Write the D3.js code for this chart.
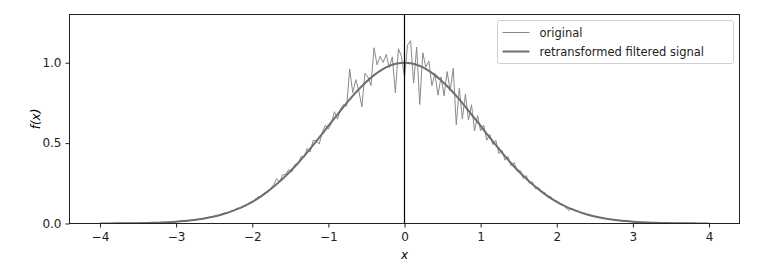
<!DOCTYPE html>
<html>
<head>
<meta charset="utf-8">
<script src="https://cdn.jsdelivr.net/npm/d3@7"></script>
<style>
  body { margin: 0; background: #fff; }
  text { font-family: "DejaVu Sans", sans-serif; }
</style>
</head>
<body>
<div class="svg-container"></div>
<script>
// sampled signal: x from -4 to 4 in steps of 0.04
var xStart = -4, xStep = 0.04;
var original = [
  .0003, .0004, .0005, .0005, .0006, .0007, .0009, .0010, .0011, .0013,
  .0015, .0018, .0020, .0023, .0027, .0031, .0035, .0040, .0046, .0053,
  .0060, .0068, .0077, .0087, .0098, .0111, .0125, .0141, .0158, .0177,
  .0198, .0222, .0247, .0276, .0307, .0340,
  .040, .039, .050, .049, .059, .067, .064, .076, .078, .095,
  .095, .110, .110, .128, .129, .151, .166, .167, .190, .193,
  .217, .240, .279, .259, .303, .306, .335, .320, .367, .367,
  .417, .409, .466, .444, .517, .515, .494, .568, .612, .587,
  .626, .695, .649, .713, .741, .729, .962, .814, .895, .825,
  .725, .934, .911, .858, 1.093, .987, 1.040, 1.002, 1.052, .970,
  1.037, .813, 1.087, 1.039, .910, 1.109, 1.137, .873, 1.097, .740,
  1.062, .972, 1.010, .857, .933, .798, .911, .794, .945, .825,
  .965, .614, .842, .649, .806, .643, .739, .575, .671, .577,
  .612, .518, .554, .490, .517, .434, .456, .394, .417, .360,
  .380, .325, .330, .281, .298, .251, .259, .216, .225, .193,
  .194, .163, .168, .141, .141, .120, .119, .098, .082, .092,
  .078, .078, .066, .065, .053, .053, .044, .044, .037,
  .0340, .0307, .0276, .0247, .0222, .0198, .0177, .0158, .0141, .0125,
  .0111, .0098, .0087, .0077, .0068, .0060, .0053, .0046, .0040, .0035,
  .0031, .0027, .0023, .0020, .0018, .0015, .0013, .0011, .0010, .0009,
  .0007, .0006, .0005, .0005, .0004, .0003
];

// filtered curve: x from -4 to 4 in steps of 0.1
var fStart = -4, fStep = 0.1;
var filtered = [
  .000, .000, .001, .001, .002, .002, .003, .004, .006, .008,
  .011, .015, .020, .026, .034, .044, .056, .071, .089, .110,
  .135, .164, .198, .236, .278, .325, .375, .430, .487, .546,
  .607, .667, .726, .783, .835, .882, .923, .956, .980, .995,
  1.000,
  .995, .980, .956, .923, .882, .835, .783, .726, .667, .607,
  .546, .487, .430, .375, .325, .278, .236, .198, .164, .135,
  .110, .089, .071, .056, .044, .034, .026, .020, .015, .011,
  .008, .006, .004, .003, .002, .002, .001, .001, .000, .000
];

var xTicks = [-4, -3, -2, -1, 0, 1, 2, 3, 4];
var yTicks = [0, 0.5, 1.0];

function draw() {
  "use strict";
  var width = 765, height = 266;
  var mLeft = 69.5, mRight = 739.5, mTop = 14.5, mBottom = 223.5;

  var svg = d3.select('.svg-container').append('svg')
      .attr('width', width).attr('height', height);

  var x = d3.scaleLinear().domain([-4.4, 4.4]).range([mLeft, mRight]);
  var y = d3.scaleLinear().domain([0, 1.3]).range([mBottom, mTop]);

  svg.append('clipPath').attr('id', 'clip')
    .append('rect').attr('x', mLeft).attr('y', mTop)
    .attr('width', mRight - mLeft).attr('height', mBottom - mTop);

  var plot = svg.append('g').attr('clip-path', 'url(#clip)');

  var lineOrig = d3.line()
      .x(function(d, i) { return x(xStart + i * xStep); })
      .y(function(d) { return y(d); });

  var lineFilt = d3.line()
      .curve(d3.curveMonotoneX)
      .x(function(d, i) { return x(fStart + i * fStep); })
      .y(function(d) { return y(d); });

  plot.append('path').datum(original)
      .attr('d', lineOrig)
      .attr('fill', 'none').attr('stroke', '#8a8a8a').attr('stroke-width', 1);

  plot.append('path').datum(filtered)
      .attr('d', lineFilt)
      .attr('fill', 'none').attr('stroke', '#6e6e6e').attr('stroke-width', 2);

  // vertical line at x = 0
  plot.append('line')
      .attr('x1', x(0)).attr('x2', x(0))
      .attr('y1', mTop).attr('y2', mBottom)
      .attr('stroke', '#000').attr('stroke-width', 1.2);

  // axes
  var xAxis = d3.axisBottom(x).tickValues(xTicks).tickSize(4).tickPadding(5)
      .tickFormat(function(d) { return d < 0 ? '\u2212' + Math.abs(d) : d; });
  var yAxis = d3.axisLeft(y).tickValues(yTicks).tickSize(4).tickPadding(4)
      .tickFormat(d3.format('.1f'));

  var gx = svg.append('g').attr('transform', 'translate(0,' + mBottom + ')').call(xAxis);
  var gy = svg.append('g').attr('transform', 'translate(' + mLeft + ',0)').call(yAxis);
  [gx, gy].forEach(function(g) {
    g.select('.domain').remove();
    g.selectAll('text').attr('font-size', 12).attr('fill', '#222')
      .attr('font-family', '"DejaVu Sans", sans-serif');
    g.selectAll('line').attr('stroke', '#222');
  });

  // frame
  svg.append('rect')
      .attr('x', mLeft).attr('y', mTop)
      .attr('width', mRight - mLeft).attr('height', mBottom - mTop)
      .attr('fill', 'none').attr('stroke', '#222').attr('stroke-width', 1);

  // axis labels
  svg.append('text').attr('x', x(0)).attr('y', 259)
      .attr('text-anchor', 'middle').attr('font-size', 12)
      .attr('font-style', 'italic').text('x');
  svg.append('text')
      .attr('transform', 'translate(40,' + ((mTop + mBottom) / 2) + ') rotate(-90)')
      .attr('text-anchor', 'middle').attr('font-size', 12)
      .attr('font-style', 'italic').text('f(x)');

  // legend
  var lg = svg.append('g').attr('transform', 'translate(497.5,20.5)');
  lg.append('rect').attr('width', 236).attr('height', 43).attr('rx', 2)
      .attr('fill', '#fff').attr('fill-opacity', 0.8)
      .attr('stroke', '#d0d0d0').attr('stroke-width', 1);
  var items = [
    {label: 'original', color: '#8a8a8a', w: 1},
    {label: 'retransformed filtered signal', color: '#6e6e6e', w: 2}
  ];
  items.forEach(function(it, i) {
    var yy = 12 + i * 19;
    lg.append('line').attr('x1', 5).attr('x2', 32).attr('y1', yy).attr('y2', yy)
      .attr('stroke', it.color).attr('stroke-width', it.w);
    lg.append('text').attr('x', 42).attr('y', yy + 4)
      .attr('font-size', 11.5).attr('fill', '#222').text(it.label);
  });
}

draw();
</script>
</body>
</html>
